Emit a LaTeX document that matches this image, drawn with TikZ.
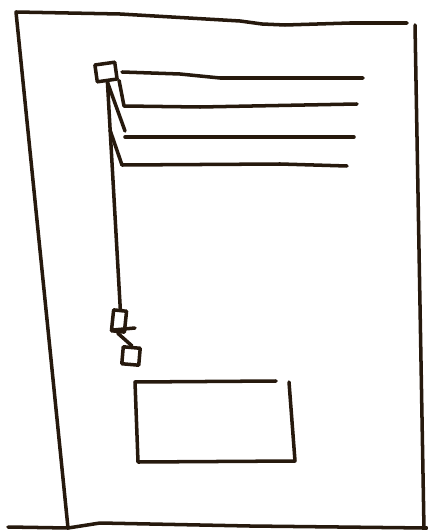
\documentclass[tikz,border=0pt]{standalone}
\begin{document}
\begin{tikzpicture}[x=0.02cm,y=-0.02cm,line cap=round,line join=round,
  pen/.style={line width=2pt,black!80!brown},
  widget/.style={draw,pen,inner sep=0pt}]
\useasboundingbox (0,0) rectangle (427,530);
% page frame
\draw[pen] (68,528) -- (16,12) -- (120,14) -- (240,21) -- (262,24) -- (285,25) -- (350,23) -- (407,23);
\draw[pen] (415,25) -- (424,530);
\draw[pen] (8,527) -- (68,528) -- (100,523) -- (250,526) -- (427,528);
% tree
\node[widget,minimum width=0.4cm,minimum height=0.34cm,rotate=8] (root) at (106,72) {};
\coordinate (itemA) at (122,72);
\coordinate (itemB) at (124,106);
\coordinate (itemC) at (125,131);
\coordinate (itemD) at (122,165);
\coordinate (fork) at (110,130);
\draw[pen] (itemA) -- (180,74) -- (220,78) -- (363,78);
\draw[pen] (itemB) -- (200,107) -- (357,104);
\draw[pen] (125,137) -- (250,137) -- (354,137);
\draw[pen] (itemD) -- (280,164) -- (347,166);
\draw[pen] (root.south east) -- (itemB);
\draw[pen] (root.south) -- (itemC);
\draw[pen] (fork) -- (itemD);
% chain
\node[widget,minimum width=0.26cm,minimum height=0.42cm,rotate=-6] (slot) at (119,321) {};
\node[widget,minimum width=0.34cm,minimum height=0.34cm,rotate=-5] (plug) at (131,356) {};
\coordinate (tickL) at (113,330);
\coordinate (tickR) at (135,328);
\draw[pen] (root.south) -- (slot.north);
\draw[pen] (slot.south) -- (plug.north);
\draw[pen] (tickL) -- (tickR);
% panel
\coordinate (panelTL) at (135,382);
\coordinate (panelBL) at (138,462);
\coordinate (panelBR) at (295,461);
\draw[pen] (276,381) -- (panelTL) -- (panelBL) -- (panelBR) -- (289,382);
\end{tikzpicture}
\end{document}
